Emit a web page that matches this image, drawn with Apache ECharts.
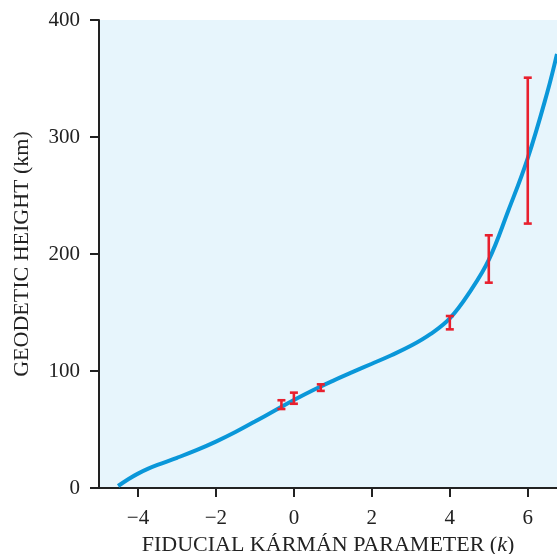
<!DOCTYPE html>
<html>
<head>
<meta charset="utf-8">
<script src="https://cdn.jsdelivr.net/npm/echarts@6/dist/echarts.min.js"></script>
<style>
html,body{margin:0;padding:0;background:#fff;}
#chart{width:557px;height:554px;}
</style>
</head>
<body>
<div id="chart"></div>
<script>
// fitted curve
var curveK = [-4.51, -4.25, -4.0, -3.75, -3.5, -3.0, -2.5, -2.0, -1.5, -1.0, -0.5, 0, 0.5, 1.0, 1.5, 2.0, 2.5, 3.0, 3.5, 4.0, 4.5, 5.0, 5.5, 6.0, 6.5, 6.75];
var curveH = [1.7, 7.5, 12.3, 16.3, 19.7, 25.8, 32.3, 39.6, 47.8, 56.8, 66, 75.2, 83.8, 91.6, 99, 106.2, 113.5, 121.5, 131.5, 145, 167, 195, 237, 282, 338, 371];

// measurements with error bars
var pointK = [-0.32, 0, 0.69, 4, 5, 6];
var pointLow = [67.5, 72, 83, 135.6, 175.5, 226];
var pointHigh = [75, 81.5, 88.6, 147, 216, 350.7];

var xTicks = [-4, -2, 0, 2, 4, 6];

var lineData = [];
for (var i = 0; i < curveK.length; i++) {
    lineData.push([curveK[i], curveH[i]]);
}
var barData = [];
for (var i = 0; i < pointK.length; i++) {
    barData.push([pointK[i], pointLow[i], pointHigh[i]]);
}

var font = '"Liberation Serif", "DejaVu Serif", serif';

function minusSign(v) {
    return v < 0 ? '\u2212' + Math.abs(v) : '' + v;
}

var option = {
    animation: false,
    grid: {
        left: 99,
        right: 0,
        top: 20,
        bottom: 66,
        outerBoundsMode: 'none',
        containLabel: false,
        show: true,
        backgroundColor: '#e7f5fc',
        borderWidth: 0
    },
    xAxis: [
        {
            type: 'value',
            min: -5,
            max: 6.75,
            name: 'FIDUCIAL KÁRMÁN PARAMETER ({i|k})',
            nameLocation: 'middle',
            nameGap: 46,
            nameTextStyle: {
                fontFamily: font,
                fontSize: 22,
                color: '#222',
                rich: {
                    i: {fontFamily: font, fontSize: 22, fontStyle: 'italic', color: '#222'}
                }
            },
            axisLine: {show: true, onZero: false, lineStyle: {color: '#222', width: 2}},
            axisTick: {show: true, inside: false, length: 9, customValues: xTicks, lineStyle: {color: '#222', width: 2}},
            axisLabel: {
                customValues: xTicks,
                margin: 20,
                fontFamily: font,
                fontSize: 21,
                color: '#222',
                formatter: minusSign
            },
            splitLine: {show: false}
        },
        {
            type: 'value',
            position: 'top',
            min: -5,
            max: 6.75,
            axisLine: {show: true, lineStyle: {color: '#222', width: 2}},
            axisTick: {show: false},
            axisLabel: {show: false},
            splitLine: {show: false}
        }
    ],
    yAxis: {
        type: 'value',
        min: 0,
        max: 400,
        interval: 100,
        name: 'GEODETIC HEIGHT (km)',
        nameLocation: 'middle',
        nameGap: 66,
        nameTextStyle: {fontFamily: font, fontSize: 22, color: '#222'},
        axisLine: {show: true, onZero: false, lineStyle: {color: '#222', width: 2}},
        axisTick: {show: true, inside: false, length: 9, lineStyle: {color: '#222', width: 2}},
        axisLabel: {
            margin: 19,
            fontFamily: font,
            fontSize: 21,
            color: '#222'
        },
        splitLine: {show: false}
    },
    series: [
        {
            type: 'line',
            data: lineData,
            smooth: 0.4,
            showSymbol: false,
            lineStyle: {color: '#0a97d9', width: 4},
            z: 2
        },
        {
            type: 'custom',
            data: barData,
            z: 3,
            renderItem: function (params, api) {
                var lo = api.coord([api.value(0), api.value(1)]);
                var hi = api.coord([api.value(0), api.value(2)]);
                var w = 4;
                var st = {stroke: '#e8202e', lineWidth: 2.6};
                return {
                    type: 'group',
                    children: [
                        {type: 'line', shape: {x1: lo[0], y1: lo[1], x2: hi[0], y2: hi[1]}, style: st},
                        {type: 'line', shape: {x1: lo[0] - w, y1: lo[1], x2: lo[0] + w, y2: lo[1]}, style: st},
                        {type: 'line', shape: {x1: hi[0] - w, y1: hi[1], x2: hi[0] + w, y2: hi[1]}, style: st}
                    ]
                };
            }
        }
    ]
};

var myChart = echarts.init(document.getElementById('chart'));
myChart.setOption(option);
</script>
</body>
</html>
